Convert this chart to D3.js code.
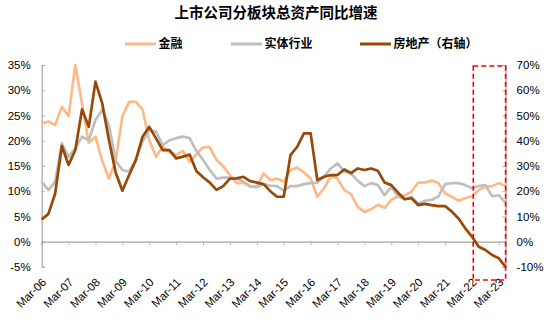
<!DOCTYPE html>
<html>
<head>
<meta charset="utf-8">
<script src="https://cdn.jsdelivr.net/npm/d3@7"></script>
<style>
  html, body { margin: 0; padding: 0; background: #fff; }
  svg { display: block; }
  text { font-family: Arial, "Liberation Sans", sans-serif; }
  .cjk { font-family: "Noto Sans CJK SC", "Microsoft YaHei", sans-serif; }
</style>
</head>
<body>
<svg id="chart" width="550" height="325"></svg>
<script>
// ---------- data ----------
const title = "上市公司分板块总资产同比增速";
const seriesNames = ["金融", "实体行业", "房地产（右轴）"];
const tickLabels = ["Mar-06","Mar-07","Mar-08","Mar-09","Mar-10","Mar-11","Mar-12","Mar-13","Mar-14",
  "Mar-15","Mar-16","Mar-17","Mar-18","Mar-19","Mar-20","Mar-21","Mar-22","Mar-23"];
// quarterly categories Mar-06 ... Jun-23
const quarterMonths = ["Mar","Jun","Sep","Dec"];
const categories = [];
for (let y = 6; y <= 23; y++) for (const m of quarterMonths) {
  if (y === 23 && (m === "Sep" || m === "Dec")) continue;
  categories.push(m + "-" + String(y).padStart(2, "0"));
}
const finance = [23.4,23.8,23.1,26.7,24.9,35.0,27.3,19.6,20.8,16.0,12.5,16.0,24.8,27.7,27.7,26.2,20.1,16.8,18.8,17.8,
  17.2,18.0,15.8,17.3,18.7,18.7,16.2,14.9,13.2,11.6,11.7,10.9,10.9,13.5,12.2,12.5,11.9,14.2,14.7,13.7,
  12.5,8.9,10.6,12.9,12.5,10.2,9.4,6.9,5.9,6.4,7.3,6.7,8.3,9.0,9.2,9.9,11.7,11.7,12.1,11.6,
  9.6,8.9,8.1,8.6,9.0,10.2,10.9,11.0,11.6,11.0];
const entity = [11.9,10.2,11.9,19.5,16.8,18.5,20.8,20.1,24.1,26.1,23.1,16.0,14.2,13.9,16.2,19.8,22.1,21.8,19.1,20.1,
  20.5,20.8,20.5,18.0,16.2,14.2,12.5,12.7,12.7,12.5,11.9,11.0,10.8,11.4,11.1,11.0,10.1,11.0,11.0,11.4,
  11.6,11.7,12.9,14.5,15.5,13.9,13.5,12.1,11.0,11.6,11.2,9.2,10.8,9.0,8.4,8.9,7.5,8.1,8.3,8.9,
  11.4,11.6,11.6,11.2,10.6,11.0,11.2,9.0,9.2,7.7];
const realEstate = [8.8,11.0,19.1,37.9,30.4,36.3,52.4,45.5,63.4,54.8,40.3,27.4,20.2,26.4,32.3,41.6,45.5,40.9,36.3,36.3,
  33.0,33.7,34.5,28.0,25.5,23.4,20.5,22.0,25.0,25.1,25.7,24.0,23.4,22.8,20.0,17.8,17.8,34.3,37.6,42.9,
  42.9,24.4,25.7,26.4,26.4,28.6,27.2,29.0,28.4,29.0,28.1,23.4,22.4,19.4,16.8,17.2,14.5,15.0,14.5,14.1,
  14.1,11.9,9.2,5.3,2.0,-2.0,-3.3,-5.3,-6.6,-10.0];
const leftTicks = [-5,0,5,10,15,20,25,30,35];
const rightTicks = [-10,0,10,20,30,40,50,60,70];
const highlightFrom = "Mar-22";

// ---------- layout ----------
const colors = ["#FDBA88", "#BFBFBF", "#984807"];
const svg = d3.select("#chart");
const x = d3.scalePoint().domain(categories).range([41.7, 505.6]);
const yL = d3.scaleLinear().domain([-5, 35]).range([266.9, 65]);
const yR = d3.scaleLinear().domain([-10, 70]).range([266.9, 65]);
const axisColor = "#A6A6A6";

// title
svg.append("text").attr("class", "cjk").attr("x", 276).attr("y", 18)
  .attr("text-anchor", "middle").attr("font-size", 14.5).attr("font-weight", "bold")
  .attr("fill", "#000").text(title);

// legend
const legendPos = [125, 231, 360];
seriesNames.forEach((n, i) => {
  const g = svg.append("g").attr("transform", `translate(${legendPos[i]},44)`);
  g.append("line").attr("x1", 0).attr("x2", 31).attr("y1", 0).attr("y2", 0)
    .attr("stroke", colors[i]).attr("stroke-width", 3);
  g.append("text").attr("class", "cjk").attr("x", 33.5).attr("y", 0).attr("dy", "0.36em")
    .attr("font-size", 12).attr("font-weight", "bold").attr("fill", "#000").text(n);
});

// left axis
const gL = svg.append("g").attr("transform", "translate(41.7,0)")
  .call(d3.axisLeft(yL).tickValues(leftTicks).tickSize(-3).tickPadding(11).tickFormat(d => d + "%"));
// right axis
const gR = svg.append("g").attr("transform", "translate(505.6,0)")
  .call(d3.axisRight(yR).tickValues(rightTicks).tickSize(-3).tickPadding(11).tickFormat(d => d + "%"));
[gL, gR].forEach(g => {
  g.select(".domain").attr("stroke", axisColor).attr("stroke-width", 1.2);
  g.selectAll(".tick line").attr("stroke", axisColor);
  g.selectAll(".tick text").attr("font-size", 11.5).attr("fill", "#000")
    .attr("font-family", "Arial, 'Liberation Sans', sans-serif");
});

// x axis at 0%
const gX = svg.append("g").attr("transform", `translate(0,${yL(0)})`)
  .call(d3.axisBottom(x).tickValues(tickLabels).tickSize(3).tickFormat(""));
gX.select(".domain").attr("stroke", axisColor).attr("stroke-width", 1.2);
gX.selectAll(".tick line").attr("stroke", axisColor);
// rotated labels at bottom
svg.append("g").selectAll("text").data(tickLabels).join("text")
  .attr("transform", d => `translate(${x(d) + 2.5},280) rotate(-45)`)
  .attr("text-anchor", "end").attr("dy", "0.35em")
  .attr("font-size", 11.5).attr("fill", "#000").text(d => d);

// lines
const lineL = d3.line().x((d, i) => x(categories[i])).y(d => yL(d));
const lineR = d3.line().x((d, i) => x(categories[i])).y(d => yR(d));
[[finance, lineL, 0], [entity, lineL, 1], [realEstate, lineR, 2]].forEach(([data, gen, ci]) => {
  svg.append("path").datum(data).attr("d", gen).attr("fill", "none")
    .attr("stroke", colors[ci]).attr("stroke-width", 2.7).attr("stroke-linejoin", "round");
});

// highlight rectangle
const hx0 = x(highlightFrom) + 1.3;
const hx1 = x(categories[categories.length - 1]);
svg.append("rect").attr("x", hx0).attr("y", 66).attr("width", hx1 - hx0).attr("height", 214)
  .attr("fill", "none").attr("stroke", "#FF0000").attr("stroke-width", 1.6)
  .attr("stroke-dasharray", "5,3");
</script>
</body>
</html>
